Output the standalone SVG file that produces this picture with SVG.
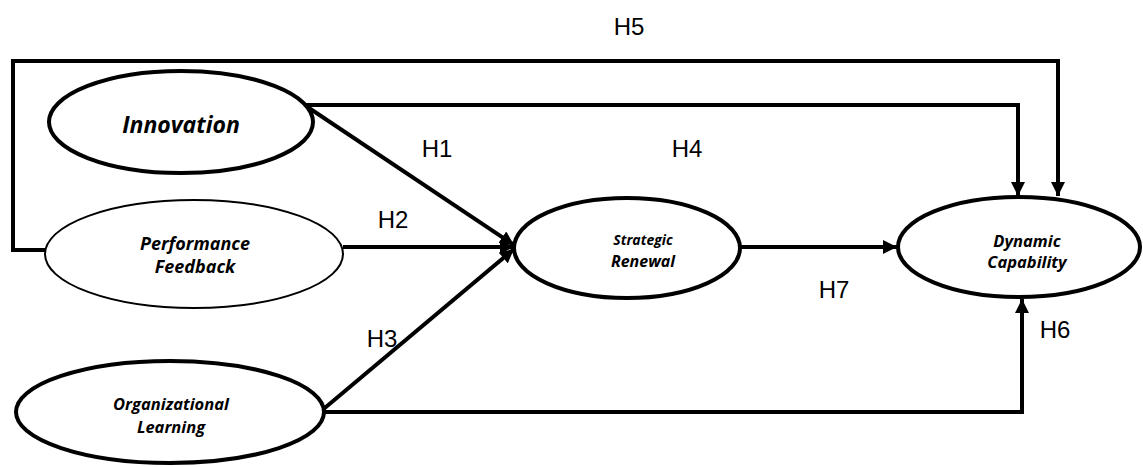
<svg xmlns="http://www.w3.org/2000/svg" width="1143" height="467" viewBox="0 0 1143 467">
<style>
.node{fill:#fff;stroke:#000;stroke-width:4}
.thin{stroke-width:2}
.nt{font-family:"Open Sans","Liberation Sans",sans-serif;font-style:italic;font-weight:bold;fill:#000;text-anchor:middle}
.lbl{font-family:"Liberation Sans","Open Sans",sans-serif;font-size:24px;fill:#000;text-anchor:middle}
.c{fill:none;stroke:#000;stroke-width:4}
</style>
<defs>
<marker id="ah" markerUnits="userSpaceOnUse" markerWidth="16" markerHeight="14" refX="14" refY="7" orient="auto">
<path d="M0,0 L14,7 L0,14 Z" fill="#000"/>
</marker>
</defs>
<g id="connectors">
<path class="c" d="M53,250 H13 V61 H1058 V196" marker-end="url(#ah)"/>
<path class="c" d="M303,105 H1018 V196" marker-end="url(#ah)"/>
<path class="c" d="M303,104 L514,245" marker-end="url(#ah)"/>
<path class="c" d="M343,247 H514" marker-end="url(#ah)"/>
<path class="c" d="M320,412 L514,249" marker-end="url(#ah)"/>
<path class="c" d="M740,247 H897" marker-end="url(#ah)"/>
<path class="c" d="M320,412 H1022 V299" marker-end="url(#ah)"/>
</g>
<g id="innovation">
<ellipse class="node" cx="181" cy="122" rx="132" ry="51"/>
<text class="nt" x="181" y="133" font-size="23">Innovation</text>
</g>
<g id="performance-feedback">
<ellipse class="node thin" cx="194" cy="254" rx="149" ry="54"/>
<text class="nt" x="195" y="250" font-size="18">Performance</text>
<text class="nt" x="195" y="273" font-size="18">Feedback</text>
</g>
<g id="organizational-learning">
<ellipse class="node" cx="170" cy="412" rx="154" ry="51"/>
<text class="nt" x="171" y="410" font-size="16.5">Organizational</text>
<text class="nt" x="171" y="433" font-size="16.5">Learning</text>
</g>
<g id="strategic-renewal">
<ellipse class="node" cx="627" cy="248" rx="113" ry="50"/>
<text class="nt" x="643" y="245" font-size="14">Strategic</text>
<text class="nt" x="643" y="267" font-size="16">Renewal</text>
</g>
<g id="dynamic-capability">
<ellipse class="node" cx="1019" cy="247" rx="121" ry="50"/>
<text class="nt" x="1027" y="247" font-size="16.5">Dynamic</text>
<text class="nt" x="1027" y="268" font-size="16.5">Capability</text>
</g>
<g id="labels">
<text class="lbl" x="629" y="35">H5</text>
<text class="lbl" x="437" y="157">H1</text>
<text class="lbl" x="687" y="157">H4</text>
<text class="lbl" x="393" y="228">H2</text>
<text class="lbl" x="834" y="298">H7</text>
<text class="lbl" x="382" y="347">H3</text>
<text class="lbl" x="1055" y="338">H6</text>
</g>
</svg>
